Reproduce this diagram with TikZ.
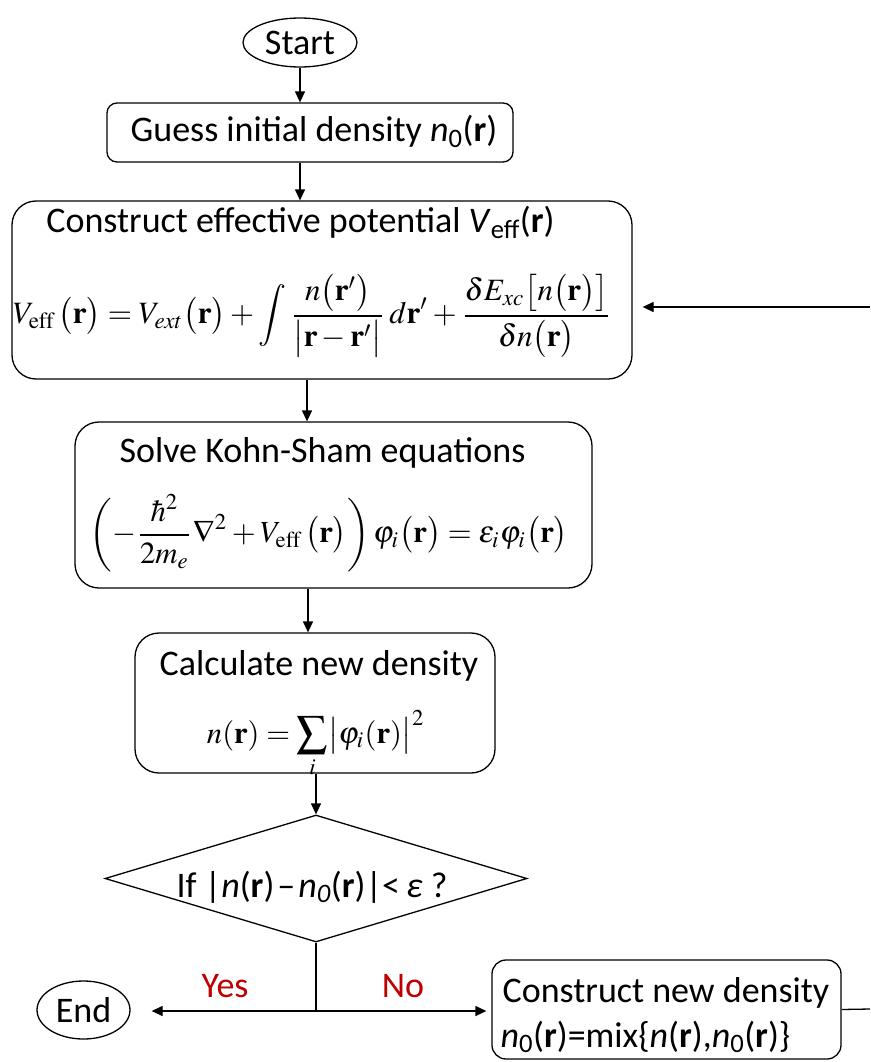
\documentclass[tikz,border=0pt]{standalone}
\usepackage{mathptmx}
\usepackage[no-math]{fontspec}
\setmainfont{Carlito}
\usepackage{graphicx}
\usetikzlibrary{arrows.meta,shapes.geometric}
\definecolor{labred}{RGB}{192,0,0}
\begin{document}
\begin{tikzpicture}[x=1pt,y=-1pt,line width=1.3pt,
  box/.style={draw,rounded corners=#1,inner sep=0pt},
  box/.default=22pt,
  txt/.style={font=\fontsize{36}{43}\selectfont,inner sep=0pt},
  frm/.style={inner sep=0pt},
  oval/.style={ellipse,draw,inner sep=0pt,font=\fontsize{36}{43}\selectfont},
  arr/.style={-{Triangle[length=11pt,width=10pt]}}]
\useasboundingbox (0,0) rectangle (870,1062);

% shapes
\node[oval,minimum width=114pt,minimum height=49pt] (start) at (300,42.5) {Start};
\node[box=10pt,minimum width=406pt,minimum height=59pt] (guess) at (310,132.5) {};
\node[box=24pt,minimum width=620pt,minimum height=178pt] (cons) at (322,290) {};
\node[box=24pt,minimum width=517pt,minimum height=166pt] (ks) at (333.5,505) {};
\node[box=24pt,minimum width=360pt,minimum height=140pt] (calc) at (315,703) {};
\node[diamond,draw,inner sep=0pt,minimum width=422pt,minimum height=127pt] (dia) at (316,878.5) {};
\node[oval,minimum width=93pt,minimum height=58pt] (end) at (83.5,1010) {End};
\node[box=14pt,minimum width=349pt,minimum height=99pt] (newd) at (666.5,1009.5) {};

% texts
\node[txt,anchor=base] (guesstxt) at (314,142) {Guess initial density \textit{n}\textsubscript{0}(\textbf{r})};
\node[txt,anchor=base] (constxt) at (300.5,232) {Construct effective potential \textit{V}\textsubscript{eff}(\textbf{r})};
\node[frm] (consf) at (312.5,316) {\resizebox{599pt}{!}{$\displaystyle
  V_{\mathrm{eff}}\,\bigl(\mathbf{r}\bigr)=V_{ext}\bigl(\mathbf{r}\bigr)+\int\frac{n\bigl(\mathbf{r}'\bigr)}{\bigl|\mathbf{r}-\mathbf{r}'\bigr|}\,d\mathbf{r}'+\frac{\delta E_{xc}\bigl[n\bigl(\mathbf{r}\bigr)\bigr]}{\delta n\bigl(\mathbf{r}\bigr)}$}};
\node[txt,anchor=base] (kstxt) at (322.5,462) {Solve Kohn-Sham equations};
\node[frm] (ksf) at (329,533) {\resizebox{478pt}{!}{$\displaystyle
  \left(-\frac{\hbar^{2}}{2m_{e}}\nabla^{2}+V_{\mathrm{eff}}\,\bigl(\mathbf{r}\bigr)\right)\varphi_{i}\bigl(\mathbf{r}\bigr)=\epsilon_{i}\varphi_{i}\bigl(\mathbf{r}\bigr)$}};
\node[txt,anchor=base] (calctxt) at (319,675) {Calculate new density};
\node[frm] (calcf) at (316,744) {\resizebox{218pt}{!}{$\displaystyle
  n(\mathbf{r})=\sum\limits_{i}\bigl|\varphi_{i}(\mathbf{r})\bigr|^{2}$}};
\node[txt,anchor=base] (diatxt) at (312,897) {If |\textit{n}(\textbf{r})\kern3pt–\kern3pt\textit{n}\textsubscript{\textit{0}}(\textbf{r})|<\,\textit{ε} ?};
\node[txt,text=labred,anchor=base] (yes) at (225,997) {Yes};
\node[txt,text=labred,anchor=base] (no) at (403,997) {No};
\node[txt,anchor=base west] (newd1) at (502,1002) {Construct new density};
\node[txt,anchor=base west] (newd2) at (500,1047) {\textit{n}\textsubscript{0}(\textbf{r})=mix\{\textit{n}(\textbf{r}),\textit{n}\textsubscript{0}(\textbf{r})\}};

% coordinates
\coordinate (x1) at (307,0);
\coordinate (x2) at (308,0);
\coordinate (j) at (316,1011);
\coordinate (fbin) at (870,307);
\coordinate (fbout) at (870,1009);

% connectors
\draw[arr] (start.south) -- (start.south |- guess.north);
\draw[arr] (start.south |- guess.south) -- (start.south |- cons.north);
\draw[arr] (x1 |- cons.south) -- (x1 |- ks.north);
\draw[arr] (x2 |- ks.south) -- (x2 |- calc.north);
\draw[arr] (dia.north |- calc.south) -- (dia.north);
\draw (dia.south) -- (j);
\draw[arr,shorten >=21pt] (j) -- (end.east |- j);
\draw[arr,shorten >=5pt] (j) -- (newd.west |- j);
\draw (newd.east) -- (fbout);
\draw[arr,shorten >=10pt] (fbin) -- (cons.east |- fbin);
\end{tikzpicture}
\end{document}
